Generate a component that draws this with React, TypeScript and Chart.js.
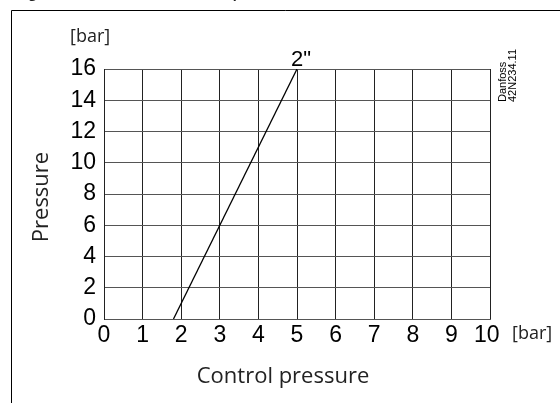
import React, { useEffect, useRef } from "react";
import { Chart, registerables } from "chart.js";

Chart.register(...registerables);

const controlPressure = [1.8, 5.0];
const pressure = [0, 16];
const seriesLabel = '2"';
const xTitle = "Control pressure";
const yTitle = "Pressure";
const unitLabel = "[bar]";
const docLabels = ["Danfoss", "42N234.11"];
const figureTitle = "Figure 4: Pressure versus control pressure";

const TICK_FONT = "'Liberation Sans', Arial, sans-serif";
const TITLE_FONT = "'Open Sans', 'Noto Sans', sans-serif";

export default function App() {
  const ref = useRef<HTMLCanvasElement | null>(null);
  useEffect(() => {
    const canvas = ref.current!;
    const overlay = {
      id: "overlay",
      afterDraw(chart: any) {
        const ctx = chart.ctx as CanvasRenderingContext2D;
        ctx.save();
        // frame
        ctx.strokeStyle = "#000";
        ctx.lineWidth = 1;
        ctx.beginPath();
        ctx.moveTo(11.5, 403);
        ctx.lineTo(11.5, 10.5);
        ctx.lineTo(560, 10.5);
        ctx.stroke();
        // cut-off figure title
        ctx.fillStyle = "#222";
        ctx.font = `bold 13px ${TITLE_FONT}`;
        ctx.textAlign = "left";
        ctx.textBaseline = "alphabetic";
        ctx.fillText(figureTitle, 18, -2);
        // unit labels
        ctx.font = `18px ${TITLE_FONT}`;
        ctx.fillStyle = "#222";
        ctx.textBaseline = "middle";
        ctx.textAlign = "left";
        ctx.fillText(unitLabel, 70, 37);
        ctx.fillText(unitLabel, 512, 334);
        // axis titles
        ctx.font = `22px ${TITLE_FONT}`;
        ctx.textAlign = "center";
        ctx.fillText(xTitle, 283, 377);
        ctx.save();
        ctx.translate(42, 197);
        ctx.rotate(-Math.PI / 2);
        ctx.fillText(yTitle, 0, 0);
        ctx.restore();
        // series label
        const xs = chart.scales.x;
        const ys = chart.scales.y;
        ctx.font = `22px ${TICK_FONT}`;
        ctx.fillStyle = "#000";
        ctx.textAlign = "center";
        ctx.textBaseline = "alphabetic";
        ctx.fillText(seriesLabel, xs.getPixelForValue(controlPressure[1]) + 4, ys.getPixelForValue(pressure[1]) - 3);
        // doc labels
        ctx.font = `11px ${TICK_FONT}`;
        ctx.textAlign = "left";
        ctx.textBaseline = "middle";
        ctx.save();
        ctx.translate(503, 102);
        ctx.rotate(-Math.PI / 2);
        ctx.fillText(docLabels[0], 0, 0);
        ctx.fillText(docLabels[1], 0, 10);
        ctx.restore();
        ctx.restore();
      },
    };
    const chart = new Chart(canvas, {
      type: "scatter",
      data: {
        datasets: [
          {
            label: seriesLabel,
            data: controlPressure.map((x, i) => ({ x, y: pressure[i] })),
            showLine: true,
            borderColor: "#000",
            borderWidth: 1.3,
            pointRadius: 0,
            fill: false,
          },
        ],
      },
      options: {
        animation: false,
        responsive: false,
        layout: { padding: { left: 0, top: 69, right: 70, bottom: 0 } },
        plugins: { legend: { display: false }, tooltip: { enabled: false } },
        scales: {
          x: {
            type: "linear",
            min: 0,
            max: 10,
            afterFit: (s: any) => {
              s.height = 84;
            },
            ticks: {
              stepSize: 1,
              color: "#000",
              font: { family: TICK_FONT, size: 23 },
              padding: 3,
              maxRotation: 0,
              callback: (v: any) => (v === 10 ? "10 " : String(v)),
            },
            grid: { color: "#222", lineWidth: 1, drawTicks: false },
            border: { display: true, color: "#555" },
          },
          y: {
            type: "linear",
            min: 0,
            max: 16,
            afterFit: (s: any) => {
              s.width = 104;
            },
            ticks: {
              stepSize: 2,
              color: "#000",
              font: { family: TICK_FONT, size: 23 },
              padding: 8,
            },
            grid: { color: "#555", lineWidth: 1, drawTicks: false },
            border: { display: true, color: "#222" },
          },
        },
      },
      plugins: [overlay],
    });
    return () => chart.destroy();
  }, []);
  return (
    <div style={{ position: "absolute", left: 0, top: 0, width: 560, height: 403, background: "#fff" }}>
      <canvas ref={ref} width={560} height={403} />
    </div>
  );
}
